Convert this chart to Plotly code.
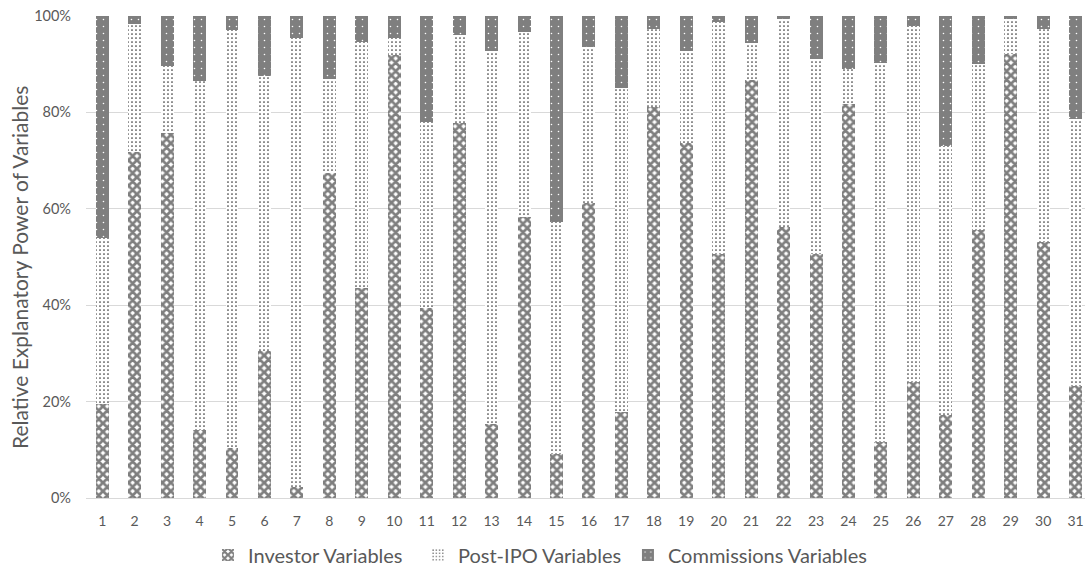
import plotly.graph_objects as go

categories = list(range(1, 32))
# percent values
investor = [19.6, 71.7, 75.7, 14.1, 10.3, 30.5, 2.3, 67.5, 43.5, 91.9,
            39.4, 77.7, 15.4, 58.4, 9.1, 61.3, 17.9, 81.1, 73.6, 50.6,
            86.8, 56.3, 50.6, 81.7, 11.7, 24.1, 17.2, 55.6, 92.1, 53.2, 23.2]
post_ipo = [34.3, 26.6, 14.0, 72.5, 86.9, 57.1, 93.1, 19.4, 51.2, 3.5,
            38.7, 18.4, 77.4, 38.2, 48.1, 32.2, 67.1, 16.2, 19.2, 48.2,
            7.5, 43.0, 40.5, 7.4, 78.5, 73.9, 55.9, 34.4, 7.3, 44.2, 55.4]
commissions = [46.1, 1.7, 10.3, 13.4, 2.8, 12.4, 4.6, 13.1, 5.3, 4.6,
               21.9, 3.9, 7.2, 3.4, 42.8, 6.5, 15.0, 2.7, 7.2, 1.2,
               5.7, 0.7, 8.9, 10.9, 9.8, 2.0, 26.9, 10.0, 0.6, 2.6, 21.4]

series_names = ["Investor Variables", "Post-IPO Variables", "Commissions Variables"]
y_title = "Relative Explanatory Power of Variables"

font_family = "Lato, 'Open Sans', sans-serif"
grey_text = "#595959"

fig = go.Figure()
fig.add_trace(go.Bar(
    x=categories, y=[v / 100 for v in investor], name=series_names[0],
    width=0.4, legend="legend",
    marker=dict(color="#ffffff", line=dict(width=0),
                pattern=dict(shape="x", fgcolor="#7f7f7f", bgcolor="#ffffff",
                             size=6, solidity=0.7, fillmode="replace")),
))
fig.add_trace(go.Bar(
    x=categories, y=[v / 100 for v in post_ipo], name=series_names[1],
    width=0.4, legend="legend2",
    marker=dict(color="#ffffff", line=dict(width=0),
                pattern=dict(shape=".", fgcolor="#3a3a3a", bgcolor="#ffffff",
                             size=4, solidity=0.15, fillmode="replace")),
))
fig.add_trace(go.Bar(
    x=categories, y=[v / 100 for v in commissions], name=series_names[2],
    width=0.4, legend="legend3",
    marker=dict(color="#7f7f7f", line=dict(width=0),
                pattern=dict(shape=".", fgcolor="#ffffff", bgcolor="#7f7f7f",
                             size=7, solidity=0.04, fillmode="replace")),
))

leg_common = dict(orientation="h", xanchor="left", y=-0.118, yanchor="middle",
                  font=dict(size=20, color=grey_text), bgcolor="rgba(0,0,0,0)",
                  itemwidth=30)

fig.update_layout(
    barmode="stack",
    width=1085, height=568,
    margin=dict(l=86, r=0, t=16, b=70, autoexpand=False),
    paper_bgcolor="#ffffff", plot_bgcolor="#ffffff",
    font=dict(family=font_family, color=grey_text, size=14),
    showlegend=True,
    legend=dict(x=0.1221, **leg_common),
    legend2=dict(x=0.3323, **leg_common),
    legend3=dict(x=0.5425, **leg_common),
    xaxis=dict(range=[0.5, 31.29], tickmode="array", tickvals=categories,
               ticktext=[str(c) for c in categories], showgrid=False,
               showline=True, linecolor="#d9d9d9", linewidth=1, ticks="",
               ticklabelstandoff=10, ticklabeloverflow="allow",
               tickfont=dict(size=14, color=grey_text)),
    yaxis=dict(range=[0, 1], dtick=0.2, tickformat=".0%", showgrid=True,
               gridcolor="#d9d9d9", gridwidth=1, zeroline=False,
               ticklabelstandoff=14, ticklabeloverflow="allow",
               tickfont=dict(size=14.5, color=grey_text)),
    annotations=[dict(text=y_title, textangle=-90, xref="paper", yref="paper",
                      x=-0.0666, y=0.478, xanchor="center", yanchor="middle",
                      showarrow=False, font=dict(size=21, color=grey_text))],
)

fig.write_html(
    "out.html",
    config={"displayModeBar": False},
    post_script="document.body.style.margin='0';"
                "document.documentElement.style.overflow='hidden';",
)
